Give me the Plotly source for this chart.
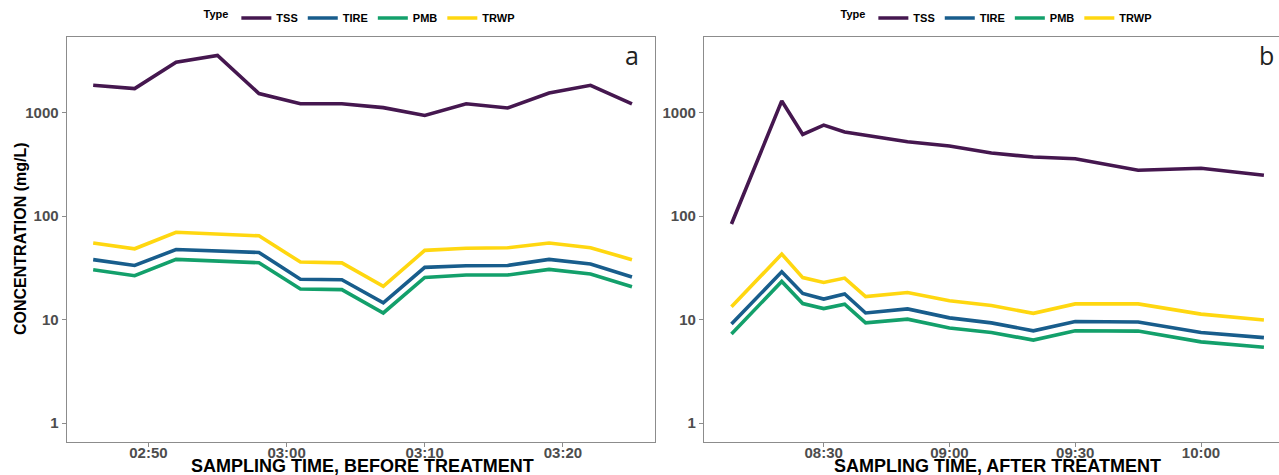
import plotly.graph_objects as go

W, H = 1279, 475
DAY = "2020-01-01 "

types = ["TSS", "TIRE", "PMB", "TRWP"]
colors = ["#45174F", "#185D8C", "#13A06B", "#FFD710"]

# Panel a: before treatment
time_a = ["02:46", "02:49", "02:52", "02:55", "02:58", "03:01", "03:04",
          "03:07", "03:10", "03:13", "03:16", "03:19", "03:22", "03:25"]
tss_a = [1840, 1710, 3080, 3580, 1530, 1220, 1220, 1120, 940, 1220, 1110, 1550, 1840, 1220]
tire_a = [38, 33.4, 47.6, 45.9, 44.6, 24.6, 24.3, 14.5, 32, 33.2, 33.4, 38.2, 34.5, 25.8]
pmb_a = [30.3, 26.6, 38.2, 36.5, 35.5, 19.8, 19.5, 11.6, 25.6, 27, 27, 30.6, 27.6, 20.8]
trwp_a = [55, 48.4, 70, 67.6, 64.6, 36, 35.4, 21, 46.7, 49, 49.5, 55, 49.5, 38]

# Panel b: after treatment
time_b = ["08:08", "08:20", "08:25", "08:30", "08:35", "08:40", "08:50",
          "09:00", "09:10", "09:20", "09:30", "09:45", "10:00", "10:15"]
tss_b = [84, 1300, 618, 760, 651, 610, 525, 477, 408, 373, 359, 278, 291, 249]
tire_b = [9.06, 29, 17.9, 15.8, 17.7, 11.6, 12.7, 10.4, 9.3, 7.8, 9.6, 9.5, 7.5, 6.7]
pmb_b = [7.26, 23.4, 14.3, 12.8, 14.1, 9.3, 10.1, 8.3, 7.5, 6.35, 7.8, 7.75, 6.1, 5.4]
trwp_b = [13.3, 43, 25.5, 22.9, 25.2, 16.7, 18.3, 15.2, 13.7, 11.5, 14.2, 14.2, 11.3, 9.9]

ticks_a = ["02:50", "03:00", "03:10", "03:20"]
ticks_b = ["08:30", "09:00", "09:30", "10:00"]
y_ticks = [1, 10, 100, 1000]

x_title_a = "SAMPLING TIME, BEFORE TREATMENT"
x_title_b = "SAMPLING TIME, AFTER TREATMENT"
y_title = "CONCENTRATION (mg/L)"

series_a = [tss_a, tire_a, pmb_a, trwp_a]
series_b = [tss_b, tire_b, pmb_b, trwp_b]

fig = go.Figure()
for name, col, ya in zip(types, colors, series_a):
    fig.add_trace(go.Scatter(x=[DAY + t for t in time_a], y=ya, mode="lines", name=name,
                             line=dict(color=col, width=3.6), xaxis="x", yaxis="y",
                             legend="legend"))
for name, col, yb in zip(types, colors, series_b):
    fig.add_trace(go.Scatter(x=[DAY + t for t in time_b], y=yb, mode="lines", name=name,
                             line=dict(color=col, width=3.6), xaxis="x2", yaxis="y2",
                             legend="legend2"))

FONT = "Liberation Sans, Arial, sans-serif"
tickfont = dict(family=FONT, size=15, color="#4D4D4D", weight="bold")
titlefont = dict(family=FONT, size=18, color="#000000", weight="bold")
axcol = "#8C8C8C"

ydom = [1 - 441.5 / H, 1 - 37 / H]
common_x = dict(type="date", showgrid=False, zeroline=False, showline=True, linecolor=axcol,
                linewidth=1.2, mirror=True, ticks="outside", ticklen=4, tickcolor=axcol,
                tickformat="%H:%M", tickfont=tickfont, automargin=False,
                ticklabelstandoff=-7)
common_y = dict(type="log", range=[-0.178, 3.732], domain=ydom, showgrid=False, zeroline=False,
                showline=True, linecolor=axcol, linewidth=1.2, ticks="outside", ticklen=4,
                tickcolor=axcol, tickvals=y_ticks, ticktext=[str(v) for v in y_ticks],
                tickfont=tickfont, automargin=False)

legend_common = dict(orientation="h", xanchor="center", y=1 - 18 / H, yanchor="middle",
                     title=dict(text="Type", side="left",
                                font=dict(family=FONT, size=11, color="#000", weight="bold")),
                     font=dict(family=FONT, size=11, color="#000", weight="bold"),
                     itemwidth=30, bgcolor="rgba(0,0,0,0)")

fig.update_layout(
    width=W, height=H,
    margin=dict(l=0, r=0, t=0, b=0, pad=0, autoexpand=False),
    paper_bgcolor="white", plot_bgcolor="white",
    xaxis=dict(common_x, domain=[66.7 / W, 655 / W], anchor="y",
               range=[DAY + "02:44:05", DAY + "03:26:40"],
               tickvals=[DAY + t for t in ticks_a]),
    xaxis2=dict(common_x, domain=[704 / W, 1.0], anchor="y2",
                range=[DAY + "08:01:27", DAY + "10:18:36"],
                tickvals=[DAY + t for t in ticks_b]),
    yaxis=dict(common_y, anchor="x", mirror=True),
    yaxis2=dict(common_y, anchor="x2", mirror=False),
    legend=dict(legend_common, x=361 / W),
    legend2=dict(legend_common, x=998 / W),
    annotations=[
        dict(text=x_title_a, x=362 / W, y=1 - 466 / H, xref="paper", yref="paper",
             showarrow=False, xanchor="center", yanchor="middle", font=titlefont),
        dict(text=x_title_b, x=997 / W, y=1 - 466 / H, xref="paper", yref="paper",
             showarrow=False, xanchor="center", yanchor="middle", font=titlefont),
        dict(text=y_title, x=20 / W, y=1 - 239 / H, xref="paper", yref="paper",
             showarrow=False, xanchor="center", yanchor="middle", textangle=-90,
             font=dict(family=FONT, size=16, color="#000000", weight="bold")),
        dict(text="a", x=631.7 / W, y=1 - 55 / H, xref="paper", yref="paper", showarrow=False,
             xanchor="center", yanchor="middle",
             font=dict(family="Open Sans, sans-serif", size=25, color="#222")),
        dict(text="b", x=1266 / W, y=1 - 55 / H, xref="paper", yref="paper", showarrow=False,
             xanchor="center", yanchor="middle",
             font=dict(family="Open Sans, sans-serif", size=25, color="#222")),
    ],
)

fig.write_html("out.html", config={"displayModeBar": False},
               post_script="document.body.style.margin='0';document.body.style.padding='0';"
                           "document.body.style.overflow='hidden';")
